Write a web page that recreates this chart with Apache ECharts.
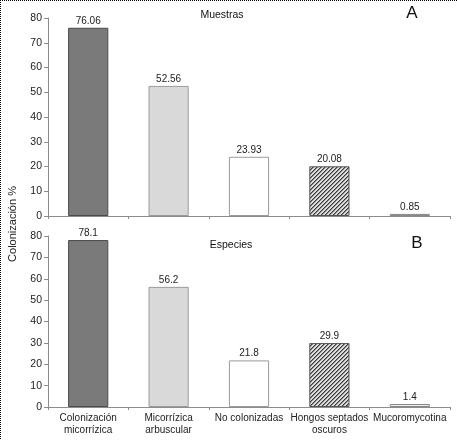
<!DOCTYPE html>
<html>
<head>
<meta charset="utf-8">
<script src="https://cdn.jsdelivr.net/npm/echarts@6/dist/echarts.min.js"></script>
<style>
  html, body { margin: 0; padding: 0; background: #fff; }
  #chart { width: 457px; height: 440px; }
</style>
</head>
<body>
<div id="chart"></div>
<script>
const categories = ['Colonización\nmicorrízica', 'Micorrízica\narbuscular', 'No colonizadas', 'Hongos septados\noscuros', 'Mucoromycotina'];
const muestras = [76.06, 52.56, 23.93, 20.08, 0.85];
const especies = [78.1, 56.2, 21.8, 29.9, 1.4];
const yMin = 0, yMax = 80, yStep = 10;

const FONT = '"Liberation Sans", Arial, sans-serif';

// small canvas patterns for the hatched bars
function pattern(size, draw) {
  const c = document.createElement('canvas');
  c.width = size; c.height = size;
  draw(c.getContext('2d'));
  return { image: c, repeat: 'repeat' };
}
const hatch = pattern(4, ctx => {
  ctx.fillStyle = '#dcdcdc';
  ctx.fillRect(0, 0, 4, 4);
  for (let i = 0; i < 4; i++) {
    ctx.fillStyle = '#3c3c3c';
    ctx.fillRect(i, 3 - i, 1, 1);
    ctx.fillStyle = '#8a8a8a';
    ctx.fillRect(i, (4 - i) % 4, 1, 1);
  }
});
const dots = pattern(2, ctx => {
  ctx.fillStyle = '#eeeeee';
  ctx.fillRect(0, 0, 2, 2);
  ctx.fillStyle = '#a8a8a8';
  ctx.fillRect(0, 0, 1, 1);
});

const barStyles = [
  { color: '#7a7a7a', borderColor: '#4a4a4a', borderWidth: 1 },
  { color: '#d9d9d9', borderColor: '#9a9a9a', borderWidth: 1 },
  { color: '#ffffff', borderColor: '#9a9a9a', borderWidth: 1 },
  { color: hatch, borderColor: '#555555', borderWidth: 1 },
  { color: dots, borderColor: '#888888', borderWidth: 1 }
];

function withStyle(values) {
  return values.map((v, i) => ({ value: v, itemStyle: barStyles[i] }));
}

const axisLine = { lineStyle: { color: '#8c8c8c', width: 1 } };

function yAxis(gridIndex) {
  return {
    type: 'value',
    gridIndex: gridIndex,
    min: yMin,
    max: yMax,
    interval: yStep,
    axisLine: Object.assign({ show: true }, axisLine),
    axisTick: { show: true, length: 4, lineStyle: { color: '#8c8c8c' } },
    splitLine: { show: false },
    axisLabel: { color: '#222', fontSize: 10.5, fontFamily: FONT, margin: 6 }
  };
}

function xAxis(gridIndex, showLabels) {
  return {
    type: 'category',
    gridIndex: gridIndex,
    data: categories,
    axisLine: axisLine,
    axisTick: { show: true, length: 3, lineStyle: { color: '#8c8c8c' } },
    axisLabel: {
      show: showLabels,
      interval: 0,
      color: '#222',
      fontSize: 10,
      fontFamily: FONT,
      lineHeight: 12,
      margin: 5
    }
  };
}

function barSeries(idx, values) {
  return {
    type: 'bar',
    xAxisIndex: idx,
    yAxisIndex: idx,
    barWidth: '50%',
    data: withStyle(values),
    label: {
      show: true,
      position: 'top',
      distance: 2,
      color: '#222',
      fontSize: 10,
      fontFamily: FONT
    },
    silent: true
  };
}

const titleStyle = { color: '#111', fontSize: 10.5, fontWeight: 'normal', fontFamily: FONT };
const letterStyle = { color: '#111', fontSize: 17, fontWeight: 'normal', fontFamily: FONT };

const chart = echarts.init(document.getElementById('chart'));
chart.setOption({
  animation: false,
  backgroundColor: '#fff',
  title: [
    { text: 'Muestras', left: 222, top: 10, textAlign: 'center', textStyle: titleStyle, padding: 0 },
    { text: 'Especies', left: 231, top: 240, textAlign: 'center', textStyle: titleStyle, padding: 0 },
    { text: 'A', left: 412, top: 5, textAlign: 'center', textStyle: letterStyle, padding: 0 },
    { text: 'B', left: 417, top: 235, textAlign: 'center', textStyle: letterStyle, padding: 0 }
  ],
  grid: [
    { left: 48, right: 7, top: 18, height: 198 },
    { left: 48, right: 7, top: 236, height: 171 }
  ],
  xAxis: [xAxis(0, false), xAxis(1, true)],
  yAxis: [yAxis(0), yAxis(1)],
  series: [barSeries(0, muestras), barSeries(1, especies)],
  graphic: [
    {
      type: 'text',
      x: 13, y: 224,
      rotation: Math.PI / 2,
      style: {
        text: 'Colonización %',
        fill: '#222',
        font: '11px ' + FONT,
        textAlign: 'center',
        textVerticalAlign: 'middle'
      }
    },
    {
      type: 'line',
      shape: { x1: 0, y1: 0.5, x2: 457, y2: 0.5 },
      style: { stroke: '#000', lineWidth: 1, lineDash: [1, 1] }
    },
    {
      type: 'line',
      shape: { x1: 0.5, y1: 0, x2: 0.5, y2: 440 },
      style: { stroke: '#000', lineWidth: 1, lineDash: [1, 1] }
    }
  ]
});
</script>
</body>
</html>
